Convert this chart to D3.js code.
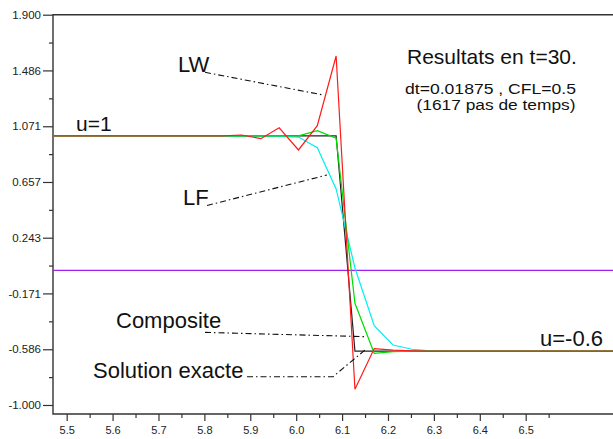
<!DOCTYPE html>
<html>
<head>
<meta charset="utf-8">
<script src="https://cdn.jsdelivr.net/npm/d3@7"></script>
<style>
  body { margin: 0; background: #fff; }
  svg { display: block; font-family: "Liberation Sans", Arial, sans-serif; }
</style>
</head>
<body>
<div id="container"></div>
<script>
// grid points (x) and the four solutions at those points
const xGrid = [5.40, 5.840, 5.881, 5.923, 5.963, 6.005, 6.046, 6.087, 6.128, 6.170, 6.211, 6.252, 6.293, 6.334, 6.75];
const exact = [1, 1, 1, 1, 1, 1, 1, 1, -0.6, -0.6, -0.6, -0.6, -0.6, -0.6, -0.6];
const laxWendroff = [1, 1.0, 1.006, 0.979, 1.060, 0.895, 1.075, 1.593, -0.883, -0.581, -0.592, -0.597, -0.6, -0.6, -0.6];
const laxFriedrichs = [1, 1, 1, 0.999, 0.998, 0.991, 0.912, 0.605, 0.018, -0.411, -0.554, -0.586, -0.597, -0.6, -0.6];
const composite = [1, 1, 1, 1, 1, 1.0, 1.038, 0.982, -0.244, -0.616, -0.604, -0.6, -0.6, -0.6, -0.6];
const zeroX = [5.40, 6.75];
const zeroY = [0, 0];

const yTickValues = [1.9, 1.486, 1.071, 0.657, 0.243, -0.171, -0.586, -1.0];
const yTickLabels = ["1.900", "1.486", "1.071", "0.657", "0.243", "-0.171", "-0.586", "-1.000"];
const xTickValues = [5.5, 5.6, 5.7, 5.8, 5.9, 6.0, 6.1, 6.2, 6.3, 6.4, 6.5];
const xTickLabels = ["5.5", "5.6", "5.7", "5.8", "5.9", "6.0", "6.1", "6.2", "6.3", "6.4", "6.5"];

const width = 613, height = 439;
const mLeft = 53, mTop = 14.7, mBottom = 414;

const svg = d3.select("#container").append("svg")
  .attr("width", width)
  .attr("height", height);

const x = d3.scaleLinear().domain([5.4702, 6.6902]).range([mLeft, width]);
const y = d3.scaleLinear().domain([-1.067, 1.9]).range([mBottom, mTop]);

svg.append("clipPath").attr("id", "plot")
  .append("rect")
  .attr("x", mLeft).attr("y", mTop)
  .attr("width", width - mLeft).attr("height", mBottom - mTop);

// minor ticks halfway between majors
const yMinor = yTickValues.slice(1).map((v, i) => (v + yTickValues[i]) / 2);
const xMinor = xTickValues.map(v => v + 0.05);

// y axis
const yAxis = d3.axisLeft(y).tickValues(yTickValues).tickSize(10).tickPadding(2)
  .tickFormat((d, i) => yTickLabels[i]);
const yg = svg.append("g").attr("transform", `translate(${mLeft},0)`).call(yAxis);
yg.select(".domain").remove();
const yMinorAxis = d3.axisLeft(y).tickValues(yMinor).tickSize(4).tickFormat("");
const ym = svg.append("g").attr("transform", `translate(${mLeft},0)`).call(yMinorAxis);
ym.select(".domain").remove();

// x axis
const xAxis = d3.axisBottom(x).tickValues(xTickValues).tickSize(7).tickPadding(5)
  .tickFormat((d, i) => xTickLabels[i]);
const xg = svg.append("g").attr("transform", `translate(0,${mBottom})`).call(xAxis);
xg.select(".domain").remove();
const xMinorAxis = d3.axisBottom(x).tickValues(xMinor).tickSize(4).tickFormat("");
const xm = svg.append("g").attr("transform", `translate(0,${mBottom})`).call(xMinorAxis);
xm.select(".domain").remove();

svg.selectAll(".tick line").attr("stroke", "#333").attr("stroke-width", 1.2);
svg.selectAll(".tick text").attr("fill", "#222").style("font-size", "11px")
  .style("font-family", "'Liberation Sans', Arial, sans-serif");
yg.selectAll(".tick text").style("font-size", "11.5px");

// frame
svg.append("path")
  .attr("d", `M${width},${mTop}H${mLeft}V${mBottom}H${width}`)
  .attr("fill", "none").attr("stroke", "#333").attr("stroke-width", 1.4);

// curves
const plot = svg.append("g").attr("clip-path", "url(#plot)");

plot.append("path")
  .datum(zeroY)
  .attr("d", d3.line().x((d, i) => x(zeroX[i])).y(d => y(d)))
  .attr("fill", "none").attr("stroke", "#a020f0").attr("stroke-width", 1.2);

const series = [
  { values: exact, color: "#222" },
  { values: laxFriedrichs, color: "#00f0f0" },
  { values: composite, color: "#00dd00" },
  { values: laxWendroff, color: "#ff1a1a" }
];

const line = d3.line().x((d, i) => x(xGrid[i])).y(d => y(d));

plot.selectAll("path.sol")
  .data(series)
  .enter()
  .append("path")
  .attr("class", "sol")
  .attr("d", d => line(d.values))
  .attr("fill", "none")
  .attr("stroke", d => d.color)
  .attr("stroke-width", 1.2);

// annotations
const dash = "6,3,1.5,3";
const leaders = [
  [[205, 72.3], [323.3, 95]],
  [[207, 205.5], [327, 175]],
  [[205, 332.4], [366, 336.7]],
  [[247, 376.7], [333, 376.7], [365, 350]]
];
svg.selectAll("path.leader")
  .data(leaders)
  .enter()
  .append("path")
  .attr("class", "leader")
  .attr("d", d3.line())
  .attr("fill", "none")
  .attr("stroke", "#111")
  .attr("stroke-width", 1.1)
  .attr("stroke-dasharray", dash);

const labels = [
  { t: "LW", x: 178, y: 72, s: 22 },
  { t: "LF", x: 183, y: 205, s: 22 },
  { t: "u=1", x: 76, y: 131, s: 21 },
  { t: "u=-0.6", x: 540, y: 345.5, s: 22 },
  { t: "Composite", x: 116, y: 328, s: 22 },
  { t: "Solution exacte", x: 93, y: 378, s: 22 },
  { t: "Resultats en t=30.", x: 407, y: 64.3, s: 21 },
  { t: "dt=0.01875 , CFL=0.5", x: 405, y: 94, s: 14, len: 171 },
  { t: "(1617 pas de temps)", x: 416.5, y: 109.5, s: 14, len: 159 }
];
labels.forEach(l => {
  const t = svg.append("text")
    .attr("x", l.x).attr("y", l.y)
    .style("font-size", l.s + "px")
    .attr("fill", "#111")
    .text(l.t);
  if (l.len) t.attr("textLength", l.len).attr("lengthAdjust", "spacingAndGlyphs");
});
</script>
</body>
</html>
